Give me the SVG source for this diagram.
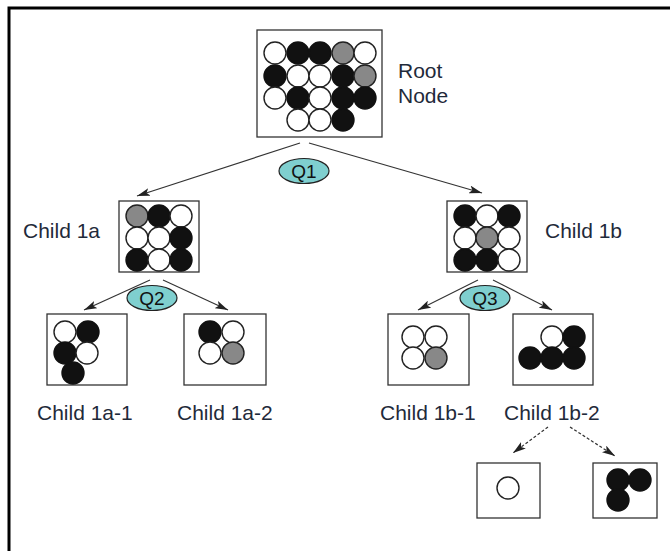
<svg xmlns="http://www.w3.org/2000/svg" width="670" height="551" viewBox="0 0 670 551">
<style>
.box{fill:#fff;stroke:#333;stroke-width:1.3}
.w{fill:#fff;stroke:#222;stroke-width:1.4}
.b{fill:#111;stroke:#111;stroke-width:1.4}
.g{fill:#888;stroke:#222;stroke-width:1.4}
.lbl{font-family:"Liberation Sans",Arial,sans-serif;font-size:21px;fill:#1f2a3a}
.q{fill:#7fcfcf;stroke:#222;stroke-width:1.2}
.qt{font-family:"Liberation Sans",Arial,sans-serif;font-size:19px;fill:#111;text-anchor:middle}
.ln{stroke:#333;stroke-width:1.2;fill:none}
.dl{stroke:#333;stroke-width:1.2;fill:none;stroke-dasharray:3 2}
</style>
<defs>
<marker id="ah" viewBox="0 0 13 8" refX="13" refY="4" markerWidth="13" markerHeight="8" markerUnits="userSpaceOnUse" orient="auto">
<path d="M0,0 L13,4 L0,8 L3,4 Z" fill="#222"/>
</marker>
</defs>
<rect width="670" height="551" fill="#fff"/>
<path d="M9,551 V8 H670" fill="none" stroke="#000" stroke-width="3"/>

<g id="connectors">
<line class="ln" x1="300" y1="143" x2="137" y2="196" marker-end="url(#ah)"/>
<line class="ln" x1="309" y1="143" x2="482" y2="193" marker-end="url(#ah)"/>
<line class="ln" x1="150" y1="280" x2="84" y2="310" marker-end="url(#ah)"/>
<line class="ln" x1="163" y1="280" x2="228" y2="310" marker-end="url(#ah)"/>
<line class="ln" x1="478" y1="280" x2="418" y2="310" marker-end="url(#ah)"/>
<line class="ln" x1="493" y1="280" x2="552" y2="310" marker-end="url(#ah)"/>
<line class="dl" x1="548" y1="427" x2="513" y2="453" marker-end="url(#ah)"/>
<line class="dl" x1="570" y1="427" x2="615" y2="456" marker-end="url(#ah)"/>
<g id="q1"><ellipse class="q" cx="304" cy="171" rx="25" ry="12.5"/><text class="qt" x="304" y="178">Q1</text></g>
<g id="q2"><ellipse class="q" cx="152" cy="298" rx="25" ry="12.5"/><text class="qt" x="152" y="305">Q2</text></g>
<g id="q3"><ellipse class="q" cx="485" cy="298" rx="25" ry="12.5"/><text class="qt" x="485" y="305">Q3</text></g>
</g>

<g id="root">
<rect class="box" x="257" y="30" width="125" height="107"/>
<circle class="w" cx="275" cy="53" r="11"/><circle class="b" cx="298" cy="53" r="11"/><circle class="b" cx="320" cy="53" r="11"/><circle class="g" cx="343" cy="53" r="11"/><circle class="w" cx="365" cy="53" r="11"/>
<circle class="b" cx="275" cy="76" r="11"/><circle class="w" cx="298" cy="76" r="11"/><circle class="w" cx="320" cy="76" r="11"/><circle class="b" cx="343" cy="76" r="11"/><circle class="g" cx="365" cy="76" r="11"/>
<circle class="w" cx="275" cy="98" r="11"/><circle class="b" cx="298" cy="98" r="11"/><circle class="w" cx="320" cy="98" r="11"/><circle class="b" cx="343" cy="98" r="11"/><circle class="b" cx="365" cy="98" r="11"/>
<circle class="w" cx="298" cy="120" r="11"/><circle class="w" cx="320" cy="120" r="11"/><circle class="b" cx="343" cy="120" r="11"/>
<text class="lbl" x="398" y="78">Root</text>
<text class="lbl" x="398" y="103">Node</text>
</g>

<g id="child1a">
<rect class="box" x="119" y="201" width="80" height="71"/>
<circle class="g" cx="137" cy="216" r="11"/><circle class="b" cx="159" cy="216" r="11"/><circle class="w" cx="181" cy="216" r="11"/>
<circle class="w" cx="137" cy="238" r="11"/><circle class="w" cx="159" cy="238" r="11"/><circle class="b" cx="181" cy="238" r="11"/>
<circle class="b" cx="137" cy="260" r="11"/><circle class="w" cx="159" cy="260" r="11"/><circle class="b" cx="181" cy="260" r="11"/>
<text class="lbl" x="23" y="238">Child 1a</text>
</g>

<g id="child1b">
<rect class="box" x="447" y="201" width="80" height="71"/>
<circle class="b" cx="465" cy="216" r="11"/><circle class="w" cx="487" cy="216" r="11"/><circle class="b" cx="509" cy="216" r="11"/>
<circle class="w" cx="465" cy="238" r="11"/><circle class="g" cx="487" cy="238" r="11"/><circle class="w" cx="509" cy="238" r="11"/>
<circle class="b" cx="465" cy="260" r="11"/><circle class="b" cx="487" cy="260" r="11"/><circle class="w" cx="509" cy="260" r="11"/>
<text class="lbl" x="545" y="238">Child 1b</text>
</g>

<g id="child1a1">
<rect class="box" x="47" y="314" width="80" height="71"/>
<circle class="w" cx="65" cy="332" r="11"/><circle class="b" cx="88" cy="332" r="11"/>
<circle class="b" cx="65" cy="353" r="11"/><circle class="w" cx="87" cy="353" r="11"/>
<circle class="b" cx="73" cy="373" r="11"/>
<text class="lbl" x="37" y="420">Child 1a-1</text>
</g>

<g id="child1a2">
<rect class="box" x="184" y="314" width="82" height="71"/>
<circle class="b" cx="210" cy="332" r="11"/><circle class="w" cx="233" cy="332" r="11"/>
<circle class="w" cx="210" cy="353" r="11"/><circle class="g" cx="233" cy="353" r="11"/>
<text class="lbl" x="177" y="420">Child 1a-2</text>
</g>

<g id="child1b1">
<rect class="box" x="388" y="314" width="81" height="71"/>
<circle class="w" cx="413" cy="337" r="11"/><circle class="w" cx="436" cy="337" r="11"/>
<circle class="w" cx="413" cy="358" r="11"/><circle class="g" cx="436" cy="358" r="11"/>
<text class="lbl" x="380" y="420">Child 1b-1</text>
</g>

<g id="child1b2">
<rect class="box" x="513" y="314" width="80" height="71"/>
<circle class="w" cx="552" cy="337" r="11"/><circle class="b" cx="574" cy="337" r="11"/>
<circle class="b" cx="530" cy="358" r="11"/><circle class="b" cx="552" cy="358" r="11"/><circle class="b" cx="574" cy="358" r="11"/>
<text class="lbl" x="504" y="420">Child 1b-2</text>
</g>

<g id="leaf1">
<rect class="box" x="477" y="463" width="63" height="55"/>
<circle class="w" cx="508" cy="488" r="11"/>
</g>

<g id="leaf2">
<rect class="box" x="593" y="463" width="64" height="55"/>
<circle class="b" cx="618" cy="480" r="11"/><circle class="b" cx="640" cy="480" r="11"/>
<circle class="b" cx="618" cy="500" r="11"/>
</g>
</svg>
